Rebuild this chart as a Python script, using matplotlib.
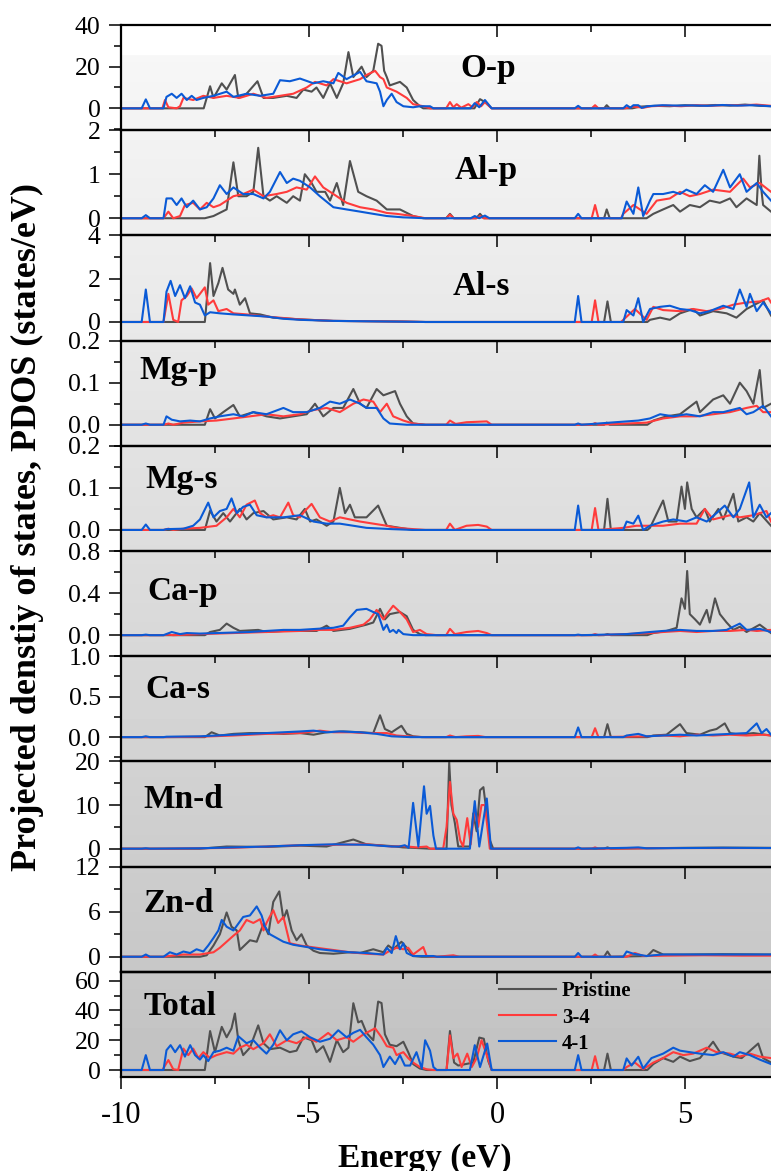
import numpy as np
import matplotlib
matplotlib.use('Agg')
import matplotlib.pyplot as plt
from matplotlib.ticker import FixedLocator, MultipleLocator, FixedFormatter

plt.rcParams['font.family'] = ['Liberation Serif', 'DejaVu Serif']
plt.rcParams['axes.unicode_minus'] = False

SERIES = ['Pristine', '3-4', '4-1']
PANEL_LABELS = ['O-p', 'Al-p', 'Al-s', 'Mg-p', 'Mg-s', 'Ca-p', 'Ca-s', 'Mn-d', 'Zn-d', 'Total']
X_TICKS = [-10, -5, 0, 5]
X_LABEL = 'Energy (eV)'
Y_LABEL = 'Projected denstiy of states, PDOS (states/eV)'

# ---- O-p ----
OP_PRI = [(-10,0),(-7.80,0),(-7.63,10.6),(-7.54,5),(-7.32,12),(-7.19,9),(-6.97,16),(-6.88,5),(-6.66,7),(-6.37,13),(-6.21,5),(-5.95,5),(-5.59,6),(-5.33,5),(-5.15,9),(-4.93,8),(-4.80,10),(-4.62,5),(-4.44,12),(-4.26,5),(-4.09,12),(-3.95,27),(-3.82,15),(-3.60,20),(-3.47,15),(-3.29,18),(-3.16,31),(-3.07,30),(-3.00,18),(-2.93,15),(-2.85,11),(-2.58,12.7),(-2.40,10),(-2.23,4),(-2.05,1),(-1.96,0),(-0.60,0),(-0.45,4.4),(-0.32,3),(-0.14,0),(2.85,0),(2.92,1.5),(3.00,0),(3.6,0),(3.8,0.8),(4.2,1.2),(4.6,1.0),(5.0,1.5),(5.4,1.2),(5.8,1.6),(6.2,1.3),(6.6,1.8),(7.0,1.2),(7.3,1.0)]
OP_34 = [(-10,0),(-8.90,0),(-8.83,4),(-8.74,0.5),(-8.52,0),(-8.43,1),(-8.34,5),(-8.08,4),(-7.81,6),(-7.54,5),(-7.19,6),(-6.84,5),(-6.48,7),(-6.13,5),(-5.77,6),(-5.42,7),(-5.06,10),(-4.84,12.7),(-4.53,11),(-4.35,14),(-4.00,12),(-3.64,14),(-3.47,16),(-3.24,18),(-3.11,15),(-3.02,14),(-2.93,10),(-2.67,8),(-2.40,5),(-2.23,2),(-1.96,1),(-1.78,0),(-1.35,0),(-1.25,3),(-1.16,0.5),(-1.07,2),(-0.95,0.3),(-0.76,2),(-0.65,0.5),(-0.54,3),(-0.42,1),(-0.32,3),(-0.14,0),(2.52,0),(2.61,1.5),(2.70,0),(3.40,0),(3.63,0.8),(3.9,0.3),(4.1,1.0),(4.5,1.3),(4.9,1.0),(5.3,1.5),(5.7,1.2),(6.1,1.6),(6.5,1.4),(6.9,1.8),(7.3,1.2)]
OP_41 = [(-10,0),(-9.45,0),(-9.34,4.3),(-9.23,0),(-8.87,0),(-8.79,5.5),(-8.65,7),(-8.52,5),(-8.39,7),(-8.25,4),(-8.12,6),(-7.99,4),(-7.81,5),(-7.54,6),(-7.19,8),(-7.01,5.5),(-6.66,7),(-6.30,6),(-5.95,7),(-5.77,13.5),(-5.51,13),(-5.24,14.3),(-4.88,12),(-4.62,13),(-4.35,12),(-4.22,17),(-4.00,14),(-3.64,17.5),(-3.47,13),(-3.20,12),(-3.11,8),(-3.02,1),(-2.93,4),(-2.80,7),(-2.67,3),(-2.49,1),(-2.23,0.5),(-2.05,1),(-1.78,1),(-1.69,0),(-0.70,0),(-0.59,2.5),(-0.47,0.5),(-0.32,4),(-0.14,0),(2.07,0),(2.16,1.2),(2.25,0),(3.36,0),(3.45,1.5),(3.55,0.3),(3.63,1.5),(3.76,1.5),(3.85,0.2),(4.0,1.0),(4.4,1.5),(4.8,1.3),(5.2,1.4),(5.6,1.2),(6.0,1.6),(6.4,1.3),(6.8,1.5),(7.3,1.0)]

# ---- Al-p ----
ALP_PRI = [(-10,0),(-7.77,0),(-7.54,0.05),(-7.19,0.2),(-7.01,1.27),(-6.88,0.5),(-6.66,0.5),(-6.48,0.6),(-6.35,1.6),(-6.21,0.5),(-6.04,0.4),(-5.86,0.5),(-5.59,0.35),(-5.42,0.5),(-5.24,0.4),(-5.11,1.0),(-4.93,0.8),(-4.80,0.6),(-4.57,0.6),(-4.44,0.4),(-4.26,0.8),(-4.09,0.3),(-3.91,1.3),(-3.69,0.6),(-3.47,0.5),(-3.20,0.4),(-2.93,0.2),(-2.58,0.2),(-2.23,0.05),(-1.96,0),(-1.35,0),(-1.25,0.1),(-1.15,0),(-0.55,0),(-0.45,0.1),(-0.35,0),(2.85,0),(2.92,0.2),(3.0,0),(3.98,0),(4.16,0.1),(4.42,0.2),(4.69,0.3),(4.87,0.15),(5.13,0.3),(5.40,0.25),(5.66,0.4),(5.93,0.35),(6.20,0.45),(6.37,0.25),(6.64,0.45),(6.91,0.3),(6.98,1.42),(7.04,0.6),(7.08,0.3),(7.29,0.15)]
ALP_34 = [(-10,0),(-8.87,0),(-8.74,0.15),(-8.61,0),(-8.43,0.05),(-8.30,0.3),(-8.08,0.35),(-7.90,0.2),(-7.72,0.35),(-7.54,0.25),(-7.37,0.3),(-7.19,0.4),(-7.01,0.5),(-6.75,0.55),(-6.48,0.65),(-6.21,0.5),(-5.86,0.55),(-5.59,0.6),(-5.33,0.7),(-5.06,0.65),(-4.84,0.95),(-4.62,0.7),(-4.35,0.55),(-4.00,0.35),(-3.64,0.25),(-3.29,0.2),(-2.93,0.12),(-2.67,0.1),(-2.23,0.05),(-1.9,0),(-1.35,0),(-1.25,0.08),(-1.15,0),(-0.55,0),(-0.45,0.05),(-0.35,0),(2.52,0),(2.61,0.3),(2.70,0),(3.30,0),(3.36,0.1),(3.63,0.3),(3.98,0.1),(4.25,0.4),(4.60,0.45),(4.87,0.6),(5.13,0.5),(5.40,0.55),(5.75,0.65),(6.20,0.6),(6.55,0.9),(6.73,0.7),(6.99,0.8),(7.29,0.6)]
ALP_41 = [(-10,0),(-9.45,0),(-9.34,0.07),(-9.23,0),(-8.87,0),(-8.79,0.45),(-8.65,0.45),(-8.52,0.3),(-8.39,0.45),(-8.25,0.25),(-8.08,0.4),(-7.90,0.2),(-7.72,0.25),(-7.54,0.45),(-7.37,0.75),(-7.19,0.55),(-7.01,0.7),(-6.75,0.55),(-6.48,0.55),(-6.21,0.45),(-6.04,0.6),(-5.77,1.05),(-5.59,0.8),(-5.42,0.9),(-5.24,0.85),(-4.97,0.7),(-4.71,0.5),(-4.35,0.25),(-4.00,0.2),(-3.64,0.15),(-3.29,0.1),(-2.93,0.05),(-2.5,0.02),(-1.9,0),(-0.7,0),(-0.59,0.05),(-0.47,0),(-0.32,0.06),(-0.2,0),(2.07,0),(2.16,0.1),(2.25,0),(3.32,0),(3.45,0.38),(3.63,0.1),(3.76,0.7),(3.89,0.05),(4.07,0.4),(4.16,0.55),(4.42,0.55),(4.69,0.6),(4.87,0.55),(5.04,0.65),(5.31,0.55),(5.53,0.75),(5.75,0.6),(6.02,1.1),(6.20,0.7),(6.46,1.0),(6.64,0.6),(6.91,0.8),(7.08,0.6),(7.29,0.4)]

# ---- Al-s ----
ALS_PRI = [(-10,0),(-7.77,0),(-7.63,2.72),(-7.54,1.2),(-7.41,1.8),(-7.30,2.5),(-7.15,1.5),(-7.01,1.3),(-6.97,1.5),(-6.84,0.8),(-6.70,1.1),(-6.57,0.4),(-6.30,0.35),(-5.95,0.2),(-5.24,0.12),(-4.35,0.05),(-2.5,0.02),(-1.9,0),(2.85,0),(2.94,0.95),(3.03,0),(4.0,0),(4.07,0.1),(4.34,0.2),(4.60,0.1),(4.87,0.4),(5.22,0.6),(5.40,0.3),(5.75,0.5),(6.11,0.4),(6.37,0.2),(6.64,0.6),(6.91,0.85),(7.08,1.0),(7.29,0.3)]
ALS_34 = [(-10,0),(-8.87,0),(-8.74,1.3),(-8.61,0.1),(-8.48,0),(-8.39,1.0),(-8.25,1.2),(-8.12,1.55),(-7.99,1.1),(-7.90,1.3),(-7.77,1.6),(-7.68,0.8),(-7.54,1.0),(-7.41,0.5),(-7.19,0.6),(-7.01,0.4),(-6.66,0.35),(-6.13,0.25),(-5.24,0.12),(-4.35,0.05),(-2.5,0.02),(-1.9,0),(2.52,0),(2.61,1.0),(2.70,0),(3.30,0),(3.36,0.1),(3.67,0.6),(3.98,0.1),(4.16,0.7),(4.42,0.55),(4.87,0.5),(5.22,0.6),(5.58,0.5),(5.93,0.6),(6.29,0.8),(6.64,0.9),(6.99,0.95),(7.22,1.1),(7.29,0.9)]
ALS_41 = [(-10,0),(-9.45,0),(-9.34,1.5),(-9.23,0),(-8.87,0),(-8.79,1.4),(-8.68,1.9),(-8.56,1.2),(-8.43,1.7),(-8.30,1.1),(-8.16,1.65),(-8.03,0.9),(-7.90,0.8),(-7.77,0.3),(-7.63,0.45),(-7.37,0.4),(-7.01,0.35),(-6.57,0.3),(-6.13,0.25),(-5.68,0.15),(-5.24,0.1),(-4.35,0.05),(-2.8,0.02),(-1.9,0),(2.07,0),(2.16,1.2),(2.25,0),(3.36,0),(3.45,0.55),(3.63,0.3),(3.76,1.1),(3.89,0),(4.07,0.6),(4.34,0.7),(4.60,0.75),(4.87,0.6),(5.13,0.55),(5.40,0.4),(5.66,0.5),(6.02,0.75),(6.29,0.6),(6.46,1.5),(6.64,0.7),(6.73,1.3),(6.91,0.5),(7.08,0.9),(7.29,0.4)]

# ---- Mg-p ----
MGP_PRI = [(-10,0),(-7.77,0),(-7.63,0.037),(-7.50,0.015),(-7.28,0.03),(-7.01,0.047),(-6.84,0.02),(-6.48,0.03),(-6.13,0.02),(-5.77,0.015),(-5.42,0.02),(-5.06,0.025),(-4.84,0.05),(-4.62,0.02),(-4.35,0.04),(-4.09,0.04),(-3.82,0.085),(-3.64,0.05),(-3.47,0.04),(-3.20,0.085),(-3.02,0.07),(-2.71,0.08),(-2.58,0.05),(-2.40,0.02),(-2.23,0.003),(-1.9,0),(2.85,0),(2.92,0.005),(3.0,0),(4.0,0),(4.16,0.01),(4.51,0.02),(4.87,0.025),(5.31,0.055),(5.40,0.03),(5.75,0.06),(6.02,0.07),(6.20,0.05),(6.46,0.1),(6.64,0.08),(6.82,0.05),(6.99,0.13),(7.08,0.04),(7.29,0.05)]
MGP_34 = [(-10,0),(-8.87,0),(-8.74,0.003),(-8.61,0),(-8.34,0.005),(-7.90,0.008),(-7.46,0.01),(-7.01,0.015),(-6.57,0.02),(-6.13,0.025),(-5.68,0.02),(-5.24,0.025),(-4.88,0.035),(-4.53,0.04),(-4.18,0.03),(-3.82,0.05),(-3.55,0.06),(-3.29,0.055),(-3.11,0.03),(-2.93,0.05),(-2.76,0.02),(-2.49,0.01),(-2.23,0.003),(-1.9,0),(-1.35,0),(-1.25,0.01),(-1.1,0.002),(-0.81,0.006),(-0.54,0.007),(-0.27,0.008),(-0.14,0),(2.52,0),(2.61,0.004),(2.70,0),(3.98,0.005),(4.42,0.015),(4.87,0.02),(5.31,0.02),(5.75,0.025),(6.20,0.03),(6.64,0.04),(6.91,0.045),(7.08,0.03),(7.29,0.03)]
MGP_41 = [(-10,0),(-9.45,0),(-9.34,0.003),(-9.23,0),(-8.87,0),(-8.79,0.02),(-8.65,0.012),(-8.43,0.008),(-8.16,0.01),(-7.90,0.008),(-7.63,0.015),(-7.37,0.02),(-7.01,0.025),(-6.75,0.02),(-6.48,0.03),(-6.13,0.025),(-5.68,0.04),(-5.42,0.03),(-5.06,0.03),(-4.71,0.04),(-4.44,0.055),(-4.18,0.05),(-3.91,0.06),(-3.64,0.05),(-3.47,0.04),(-3.20,0.04),(-3.02,0.015),(-2.85,0.003),(-2.4,0),(2.07,0),(2.16,0.003),(2.25,0),(3.45,0.008),(3.76,0.01),(4.07,0.015),(4.34,0.025),(4.69,0.02),(5.04,0.025),(5.40,0.02),(5.75,0.03),(6.02,0.03),(6.46,0.04),(6.64,0.025),(6.82,0.03),(7.08,0.045),(7.29,0.02)]

# ---- Mg-s ----
MGS_PRI = [(-10,0),(-7.77,0),(-7.63,0.046),(-7.46,0.02),(-7.28,0.04),(-7.10,0.02),(-6.84,0.05),(-6.66,0.025),(-6.48,0.04),(-6.21,0.045),(-5.95,0.025),(-5.59,0.03),(-5.33,0.025),(-5.11,0.05),(-4.97,0.02),(-4.80,0.025),(-4.53,0.01),(-4.35,0.02),(-4.18,0.1),(-4.04,0.04),(-3.91,0.06),(-3.78,0.03),(-3.47,0.03),(-3.16,0.058),(-2.93,0.01),(-2.58,0.005),(-2.23,0),(2.85,0),(2.94,0.074),(3.03,0),(4.0,0),(4.07,0.005),(4.42,0.07),(4.56,0.02),(4.78,0.02),(4.91,0.103),(5.00,0.05),(5.06,0.113),(5.18,0.05),(5.31,0.03),(5.53,0.05),(5.66,0.02),(5.89,0.05),(6.02,0.025),(6.29,0.086),(6.42,0.02),(6.64,0.03),(6.82,0.02),(6.99,0.04),(7.29,0.01)]
MGS_34 = [(-10,0),(-8.87,0),(-8.74,0.003),(-8.61,0),(-8.34,0.003),(-7.90,0.005),(-7.46,0.01),(-7.19,0.03),(-7.01,0.05),(-6.84,0.03),(-6.66,0.06),(-6.44,0.07),(-6.30,0.04),(-6.13,0.03),(-5.95,0.035),(-5.77,0.03),(-5.55,0.065),(-5.42,0.035),(-5.24,0.03),(-5.11,0.045),(-4.93,0.062),(-4.71,0.03),(-4.44,0.02),(-4.18,0.03),(-3.91,0.025),(-3.64,0.02),(-3.29,0.015),(-2.93,0.01),(-2.67,0.005),(-2.23,0.002),(-1.9,0),(-1.35,0),(-1.25,0.015),(-1.12,0),(-0.81,0.01),(-0.5,0.012),(-0.27,0.008),(-0.14,0),(2.52,0),(2.61,0.052),(2.70,0),(3.36,0.005),(3.71,0.01),(4.07,0.01),(4.42,0.01),(4.87,0.015),(5.31,0.015),(5.53,0.05),(5.75,0.025),(6.20,0.035),(6.46,0.03),(6.82,0.035),(7.17,0.045),(7.29,0.02)]
MGS_41 = [(-10,0),(-9.45,0),(-9.34,0.013),(-9.23,0),(-8.87,0),(-8.79,0.002),(-8.34,0.003),(-8.08,0.01),(-7.90,0.025),(-7.68,0.065),(-7.54,0.03),(-7.37,0.045),(-7.19,0.05),(-7.06,0.075),(-6.92,0.04),(-6.75,0.055),(-6.57,0.06),(-6.39,0.035),(-6.13,0.03),(-5.68,0.03),(-5.24,0.035),(-4.88,0.02),(-4.53,0.015),(-4.18,0.015),(-3.82,0.01),(-3.47,0.005),(-2.80,0.002),(-2.2,0),(2.07,0),(2.16,0.058),(2.25,0),(3.36,0),(3.45,0.02),(3.63,0.015),(3.76,0.034),(3.89,0),(4.07,0.01),(4.42,0.02),(4.69,0.025),(5.04,0.02),(5.31,0.03),(5.58,0.02),(5.84,0.04),(6.06,0.058),(6.29,0.03),(6.46,0.05),(6.71,0.113),(6.82,0.03),(6.99,0.06),(7.17,0.03),(7.29,0.04)]

# ---- Ca-p ----
CAP_PRI = [(-10,0),(-7.77,0),(-7.63,0.03),(-7.37,0.05),(-7.19,0.11),(-7.01,0.07),(-6.84,0.04),(-6.35,0.05),(-6.13,0.03),(-5.68,0.04),(-5.24,0.04),(-4.80,0.04),(-4.53,0.09),(-4.35,0.04),(-3.91,0.06),(-3.47,0.1),(-3.29,0.12),(-3.11,0.25),(-2.98,0.15),(-2.85,0.2),(-2.58,0.22),(-2.40,0.18),(-2.23,0.05),(-2.05,0.01),(-1.9,0),(2.85,0),(2.94,0.01),(3.03,0),(4.0,0),(4.16,0.02),(4.51,0.04),(4.78,0.07),(4.91,0.35),(5.00,0.25),(5.06,0.61),(5.13,0.2),(5.27,0.15),(5.40,0.1),(5.58,0.24),(5.66,0.12),(5.80,0.35),(5.93,0.2),(6.11,0.12),(6.29,0.05),(6.46,0.08),(6.64,0.03),(6.99,0.1),(7.29,0.02)]
CAP_34 = [(-10,0),(-8.87,0),(-8.74,0.005),(-8.61,0),(-7.90,0.01),(-7.01,0.02),(-6.13,0.03),(-5.24,0.04),(-4.71,0.05),(-4.35,0.05),(-3.91,0.07),(-3.55,0.1),(-3.38,0.15),(-3.20,0.24),(-3.02,0.15),(-2.93,0.2),(-2.76,0.28),(-2.58,0.22),(-2.40,0.15),(-2.23,0.03),(-2.05,0.05),(-1.87,0.01),(-1.6,0),(-1.35,0),(-1.25,0.06),(-1.12,0.01),(-0.81,0.03),(-0.5,0.04),(-0.27,0.02),(-0.14,0),(2.52,0),(2.61,0.01),(2.70,0),(4.07,0.02),(4.42,0.03),(4.87,0.04),(5.31,0.03),(5.75,0.04),(6.20,0.04),(6.64,0.05),(6.91,0.04),(7.29,0.05)]
CAP_41 = [(-10,0),(-9.45,0),(-9.34,0.005),(-9.23,0),(-8.87,0),(-8.65,0.03),(-8.43,0.01),(-8.25,0.02),(-7.90,0.015),(-7.46,0.02),(-7.01,0.025),(-6.57,0.03),(-6.13,0.04),(-5.68,0.05),(-5.24,0.05),(-4.80,0.06),(-4.35,0.07),(-4.09,0.09),(-3.91,0.17),(-3.73,0.24),(-3.47,0.25),(-3.29,0.22),(-3.16,0.2),(-3.02,0.05),(-2.93,0.1),(-2.85,0.03),(-2.76,0.05),(-2.67,0.02),(-2.62,0.05),(-2.49,0.01),(-2.23,0),(2.07,0),(2.16,0.005),(2.25,0),(3.45,0.01),(3.76,0.02),(4.07,0.03),(4.42,0.04),(4.87,0.05),(5.31,0.04),(5.75,0.04),(6.11,0.05),(6.46,0.11),(6.64,0.05),(6.99,0.06),(7.29,0.03)]

# ---- Ca-s ----
CAS_PRI = [(-10,0),(-7.77,0),(-7.59,0.06),(-7.37,0.02),(-7.01,0.04),(-6.57,0.05),(-6.13,0.05),(-5.68,0.04),(-5.24,0.05),(-4.88,0.03),(-4.53,0.06),(-4.09,0.07),(-3.64,0.06),(-3.29,0.05),(-3.11,0.27),(-2.98,0.1),(-2.80,0.06),(-2.54,0.14),(-2.40,0.04),(-2.23,0.01),(-2.0,0),(2.85,0),(2.94,0.16),(3.03,0),(4.0,0),(4.16,0.02),(4.51,0.03),(4.87,0.16),(5.04,0.05),(5.40,0.03),(5.66,0.08),(5.84,0.1),(6.06,0.17),(6.20,0.05),(6.46,0.03),(6.82,0.05),(7.29,0.02)]
CAS_34 = [(-10,0),(-8.87,0),(-7.90,0.005),(-7.01,0.02),(-6.13,0.04),(-5.24,0.05),(-4.71,0.08),(-4.35,0.06),(-3.91,0.06),(-3.47,0.05),(-2.93,0.05),(-2.67,0.02),(-2.23,0.005),(-1.9,0),(-1.35,0),(-1.25,0.02),(-1.1,0),(-0.81,0.01),(-0.5,0.015),(-0.3,0),(2.52,0),(2.61,0.11),(2.70,0),(3.98,0.01),(4.42,0.02),(4.87,0.01),(5.31,0.03),(5.75,0.02),(6.20,0.03),(6.64,0.02),(7.08,0.03),(7.29,0.02)]
CAS_41 = [(-10,0),(-9.45,0),(-9.34,0.01),(-9.23,0),(-8.87,0),(-8.79,0.005),(-7.90,0.01),(-7.01,0.03),(-6.13,0.05),(-5.68,0.06),(-5.24,0.07),(-4.88,0.08),(-4.53,0.06),(-4.18,0.07),(-3.64,0.06),(-3.20,0.04),(-2.80,0.01),(-2.3,0),(2.07,0),(2.16,0.12),(2.25,0),(3.36,0),(3.45,0.02),(3.76,0.04),(3.98,0.01),(4.42,0.02),(4.87,0.03),(5.31,0.02),(5.75,0.03),(6.20,0.04),(6.64,0.05),(6.91,0.17),(7.04,0.05),(7.17,0.1),(7.29,0.03)]

# ---- Mn-d ----
MND_PRI = [(-10,0),(-7.9,0),(-7.19,0.5),(-6.13,0.4),(-5.24,0.7),(-4.53,0.5),(-3.82,2.1),(-3.47,1.0),(-2.80,0.6),(-2.5,0.3),(-2.23,0.2),(-1.78,0),(-1.34,0),(-1.27,19.8),(-1.21,10),(-1.12,5.9),(-1.03,0.5),(-0.72,0.5),(-0.63,8.1),(-0.54,4),(-0.45,13.4),(-0.36,14.1),(-0.27,8),(-0.19,2),(-0.10,0),(2.85,0),(2.94,0.3),(3.03,0),(4.0,0.1),(5.0,0.2),(6.0,0.25),(7.29,0.2)]
MND_34 = [(-10,0),(-8.8,0),(-7.01,0.2),(-6.13,0.5),(-5.24,0.8),(-4.35,0.9),(-3.47,1.0),(-2.80,0.5),(-2.5,0.6),(-2.14,0.3),(-1.87,0.5),(-1.78,0),(-1.43,0),(-1.34,5),(-1.25,15.3),(-1.16,8),(-1.07,6.6),(-0.98,2),(-0.90,0.5),(-0.79,7.0),(-0.70,1),(-0.59,9.6),(-0.50,5),(-0.41,10),(-0.32,10),(-0.19,0),(2.52,0),(2.61,0.3),(2.70,0),(4.0,0.1),(5.0,0.15),(6.0,0.15),(7.29,0.15)]
MND_41 = [(-10,0),(-9.45,0),(-9.34,0.1),(-9.23,0),(-7.90,0.1),(-7.01,0.3),(-6.13,0.5),(-5.24,0.8),(-4.35,1.0),(-3.47,0.9),(-2.80,0.5),(-2.6,0.5),(-2.45,0.8),(-2.35,0.2),(-2.23,10.5),(-2.09,0.5),(-1.94,14.3),(-1.87,8),(-1.78,9.8),(-1.69,3),(-1.62,0),(-0.72,0),(-0.59,10.9),(-0.47,0.5),(-0.27,11.5),(-0.16,0),(2.07,0),(2.16,0.3),(2.25,0),(3.45,0.2),(3.76,0.3),(3.98,0.1),(5.0,0.15),(6.0,0.2),(7.29,0.15)]

# ---- Zn-d ----
ZND_PRI = [(-10,0),(-7.9,0),(-7.72,0.2),(-7.54,1.5),(-7.37,3),(-7.19,5.9),(-7.06,4),(-6.92,3.5),(-6.84,0.9),(-6.57,2.2),(-6.39,2.0),(-6.21,4.4),(-6.08,3),(-5.95,7.3),(-5.79,8.7),(-5.68,5),(-5.59,6.2),(-5.46,3.5),(-5.33,2.2),(-5.20,3.0),(-5.06,1.5),(-4.88,0.8),(-4.71,0.5),(-4.35,0.4),(-3.91,0.6),(-3.64,0.5),(-3.29,1.0),(-3.02,0.6),(-2.89,1.5),(-2.76,1.0),(-2.54,2.0),(-2.40,1.2),(-2.23,0.1),(-2.0,0),(2.85,0),(2.94,0.7),(3.03,0),(4.0,0.1),(4.16,0.9),(4.42,0.3),(5.0,0.3),(6.0,0.35),(7.29,0.3)]
ZND_34 = [(-10,0),(-8.87,0),(-8.74,0.1),(-8.34,0.3),(-7.90,0.3),(-7.54,0.6),(-7.37,1.2),(-7.19,2),(-7.01,2.8),(-6.84,3.5),(-6.66,4.9),(-6.48,4.5),(-6.30,5.0),(-6.21,3.5),(-6.13,4.5),(-5.95,6.2),(-5.82,4.5),(-5.68,5.3),(-5.51,1.8),(-5.24,1.5),(-4.80,1.2),(-4.35,0.9),(-3.91,0.6),(-3.47,0.4),(-3.02,0.3),(-2.85,0.8),(-2.67,1.2),(-2.49,1.0),(-2.36,1.2),(-2.23,0.3),(-1.96,1.3),(-1.87,0.1),(-1.6,0),(-1.16,0.2),(-1.0,0),(2.52,0),(2.61,0.3),(2.70,0),(3.45,0),(3.67,0.5),(3.9,0.1),(4.5,0.15),(5.5,0.2),(6.5,0.15),(7.29,0.15)]
ZND_41 = [(-10,0),(-9.45,0),(-9.34,0.3),(-9.23,0),(-8.87,0),(-8.70,0.6),(-8.52,0.3),(-8.34,0.7),(-8.16,0.5),(-7.99,1.0),(-7.81,0.7),(-7.68,1.5),(-7.54,2.5),(-7.41,3.5),(-7.32,4.9),(-7.19,4.0),(-7.01,3.5),(-6.88,4.4),(-6.75,5.3),(-6.57,5.5),(-6.39,6.7),(-6.26,5.5),(-6.17,4),(-6.04,3),(-5.86,2.5),(-5.68,2),(-5.42,1.6),(-5.06,1.3),(-4.71,1.0),(-4.35,0.8),(-3.91,0.6),(-3.47,0.5),(-3.02,0.3),(-2.93,1.2),(-2.80,0.5),(-2.69,2.75),(-2.58,1.0),(-2.49,1.8),(-2.40,0.5),(-2.23,0.1),(-1.69,0.1),(-1.6,0),(2.07,0),(2.16,0.5),(2.25,0),(3.36,0),(3.45,0.7),(3.63,0.4),(3.98,0.1),(4.16,0.2),(4.42,0.3),(5.5,0.3),(6.5,0.3),(7.29,0.3)]

# ---- Total ----
TOT_PRI = [(-10,0),(-7.77,0),(-7.63,26.2),(-7.50,12),(-7.32,29),(-7.19,22),(-7.06,28),(-6.97,38),(-6.88,20),(-6.75,10),(-6.57,15),(-6.35,30),(-6.21,18),(-6.04,14),(-5.77,15),(-5.51,12),(-5.33,13),(-5.15,22),(-4.93,20),(-4.80,12),(-4.62,16),(-4.44,5.5),(-4.26,20),(-4.09,12),(-3.95,15),(-3.82,44.9),(-3.69,32),(-3.60,33),(-3.47,25),(-3.29,20),(-3.16,46),(-3.07,45),(-2.98,24),(-2.85,17),(-2.67,16),(-2.49,19),(-2.36,12),(-2.23,4),(-2.05,1),(-1.87,0),(-1.34,0),(-1.25,26.2),(-1.14,5),(-1.03,3),(-0.63,5),(-0.47,21.8),(-0.35,21),(-0.23,6),(-0.14,0),(2.85,0),(2.94,11),(3.03,0),(4.0,0),(4.16,4),(4.42,8),(4.69,5.5),(4.87,9),(5.13,6),(5.40,8),(5.75,19),(5.93,12),(6.29,9),(6.51,8),(6.95,17.8),(7.08,8),(7.29,5)]
TOT_34 = [(-10,0),(-8.90,0),(-8.74,6.7),(-8.61,0.5),(-8.48,0),(-8.34,14.4),(-8.21,10),(-8.08,14.4),(-7.94,8),(-7.81,12),(-7.63,8),(-7.46,10),(-7.19,12),(-7.01,11),(-6.84,15),(-6.66,17),(-6.48,14),(-6.21,18),(-6.04,24),(-5.86,16),(-5.59,20),(-5.33,18),(-5.06,22),(-4.80,19),(-4.49,24.9),(-4.26,20),(-4.00,22),(-3.82,19),(-3.55,24),(-3.24,28),(-3.07,22),(-2.93,16),(-2.76,15),(-2.67,10),(-2.49,12),(-2.36,8),(-2.23,5),(-2.05,2),(-1.87,0.5),(-1.69,0),(-1.34,0),(-1.25,23.3),(-1.16,8),(-1.05,11),(-0.94,2),(-0.79,11),(-0.67,2),(-0.54,8),(-0.41,20),(-0.27,10),(-0.14,0),(2.52,0),(2.61,9.3),(2.70,0),(3.36,0),(3.45,2),(3.67,5),(3.89,0.5),(4.16,5),(4.42,8),(4.69,12),(4.96,10),(5.22,11),(5.58,15),(5.84,12),(6.20,11),(6.46,9),(6.73,11),(6.99,9),(7.29,8)]
TOT_41 = [(-10,0),(-9.45,0),(-9.34,10),(-9.23,0),(-8.87,0),(-8.79,13.3),(-8.68,16.7),(-8.56,12),(-8.43,16.7),(-8.30,9),(-8.16,16.7),(-8.03,10),(-7.90,7),(-7.81,10),(-7.68,6),(-7.54,12),(-7.37,13),(-7.19,15),(-7.01,13),(-6.88,22.7),(-6.66,18),(-6.48,20),(-6.30,15),(-6.13,11),(-5.95,17),(-5.77,26.7),(-5.59,20),(-5.42,24),(-5.20,26),(-4.97,22),(-4.71,19),(-4.44,21),(-4.22,26.7),(-4.00,22),(-3.82,25),(-3.64,27),(-3.47,22),(-3.29,17),(-3.11,10),(-3.02,2),(-2.85,9),(-2.71,4),(-2.58,10),(-2.45,3),(-2.31,3),(-2.14,12),(-2.00,1),(-1.91,20),(-1.78,13),(-1.69,2),(-1.60,0),(-0.72,0),(-0.59,16.7),(-0.45,2),(-0.26,17.8),(-0.14,0),(2.07,0),(2.16,10),(2.25,0),(3.36,0),(3.45,7.8),(3.58,3),(3.76,8.9),(3.89,1),(4.11,8),(4.42,11),(4.69,15),(4.87,13),(5.13,12),(5.40,11),(5.75,10),(6.02,12),(6.29,9),(6.46,12),(6.73,10),(6.99,7),(7.29,4)]

DATA = [
    (OP_PRI, OP_34, OP_41),
    (ALP_PRI, ALP_34, ALP_41),
    (ALS_PRI, ALS_34, ALS_41),
    (MGP_PRI, MGP_34, MGP_41),
    (MGS_PRI, MGS_34, MGS_41),
    (CAP_PRI, CAP_34, CAP_41),
    (CAS_PRI, CAS_34, CAS_41),
    (MND_PRI, MND_34, MND_41),
    (ZND_PRI, ZND_34, ZND_41),
    (TOT_PRI, TOT_34, TOT_41),
]

Y_TICKS = [
    [0, 20, 40], [0, 1, 2], [0, 2, 4], [0.0, 0.1, 0.2], [0.0, 0.1, 0.2],
    [0.0, 0.4, 0.8], [0.0, 0.5, 1.0], [0, 10, 20], [0, 6, 12], [0, 20, 40, 60],
]
Y_TICKLABELS = [
    ['0', '20', '40'], ['0', '1', '2'], ['0', '2', '4'], ['0.0', '0.1', '0.2'], ['0.0', '0.1', '0.2'],
    ['0.0', '0.4', '0.8'], ['0.0', '0.5', '1.0'], ['0', '10', '20'], ['0', '6', '12'], ['0', '20', '40', '60'],
]

# ---- layout / style (not data) ----
YLIMS = [(-10.5, 40), (-0.39, 2), (-0.86, 4), (-0.05, 0.2), (-0.05, 0.2),
         (-0.2, 0.8), (-0.3, 1.0), (-4.1, 20), (-2.0, 12), (-4.7, 66)]
LABEL_POS = [(0.565, 0.505, 'center'), (0.562, 0.54, 'center'), (0.555, 0.434, 'center'),
             (0.029, 0.638, 'left'), (0.037, 0.60, 'left'), (0.040, 0.538, 'left'),
             (0.037, 0.60, 'left'), (0.034, 0.557, 'left'), (0.034, 0.57, 'left'),
             (0.034, 0.59, 'left')]
COLORS = ['#505050', '#ff3b3b', '#0a5ad6']

W, H = 771, 1171
fig = plt.figure(figsize=(W / 100, H / 100), dpi=100)
left, right = 121 / W, 1.0
top, bottom = 1 - 25 / H, 1 - 1077 / H

# gradient background behind the panels
bg = fig.add_axes([left, bottom, right - left, top - bottom], zorder=-1)
grad = np.linspace(0.972, 0.760, 256)[:, None]
bg.imshow(grad, cmap='gray', vmin=0, vmax=1, aspect='auto', extent=[0, 1, 0, 1],
          interpolation='bilinear')
bg.set_axis_off()

gs = fig.add_gridspec(10, 1, left=left, right=right, top=top, bottom=bottom, hspace=0)
axes = []
lines_for_legend = None
for i in range(10):
    ax = fig.add_subplot(gs[i, 0], sharex=axes[0] if axes else None)
    ax.set_facecolor('none')
    axes.append(ax)
    handles = []
    for s, (pts, col) in enumerate(zip(DATA[i], COLORS)):
        e = [p[0] for p in pts]
        v = [p[1] for p in pts]
        h, = ax.plot(e, v, color=col, lw=1.5, solid_joinstyle='round', label=SERIES[s])
        handles.append(h)
    if i == 0:
        ax.axhspan(26.2, 40, color='white', zorder=-5)
    ax.set_ylim(*YLIMS[i])
    ax.set_xlim(-10, 7.29)
    ax.yaxis.set_major_locator(FixedLocator(Y_TICKS[i]))
    ax.yaxis.set_major_formatter(FixedFormatter(Y_TICKLABELS[i]))
    step = Y_TICKS[i][1] - Y_TICKS[i][0]
    ax.yaxis.set_minor_locator(MultipleLocator(step / 2))
    ax.tick_params(axis='y', which='both', direction='out', left=True, right=False,
                   labelsize=18.5, width=1.1, pad=6)
    ax.tick_params(axis='y', which='major', length=8.6)
    ax.tick_params(axis='y', which='minor', length=5)
    ax.xaxis.set_major_locator(FixedLocator(X_TICKS))
    ax.xaxis.set_minor_locator(MultipleLocator(2.5))
    for sp in ['top', 'bottom', 'left']:
        ax.spines[sp].set_linewidth(1.6)
    ax.spines['right'].set_visible(False)
    if i < 9:
        ax.tick_params(axis='x', which='both', direction='in', top=True, bottom=False,
                       labelbottom=False, width=1.1)
        ax.tick_params(axis='x', which='major', length=8.6)
        ax.tick_params(axis='x', which='minor', length=5)
    else:
        ax.tick_params(axis='x', which='both', direction='out', top=False, bottom=True,
                       labelbottom=True, labelsize=22, width=1.1, pad=9)
        ax.tick_params(axis='x', which='major', length=8.6)
        ax.tick_params(axis='x', which='minor', length=5)
        sec = ax.secondary_xaxis('top')
        sec.xaxis.set_major_locator(FixedLocator(X_TICKS))
        sec.xaxis.set_minor_locator(MultipleLocator(2.5))
        sec.tick_params(axis='x', which='both', direction='in', labeltop=False, width=1.1)
        sec.tick_params(axis='x', which='major', length=8.6)
        sec.tick_params(axis='x', which='minor', length=5)
        sec.spines['top'].set_linewidth(1.6)
        lines_for_legend = handles
    lx, ly, ha = LABEL_POS[i]
    ax.text(lx, ly, PANEL_LABELS[i], transform=ax.transAxes, ha=ha, va='baseline',
            fontsize=24, fontweight='bold', color='black')

axes[-1].legend(lines_for_legend, SERIES, loc='upper left', bbox_to_anchor=(0.582, 0.91),
                frameon=False, prop={'weight': 'bold', 'size': 15}, handlelength=2.7,
                handletextpad=0.3, labelspacing=0.3, borderpad=0, borderaxespad=0)

fig.text(0.036, 0.55, Y_LABEL, rotation=90, ha='center', va='center',
         fontsize=26, fontweight='bold')
fig.text(0.551, 0.004, X_LABEL, ha='center', va='baseline', fontsize=24, fontweight='bold')

fig.savefig('out.png', dpi=100)
